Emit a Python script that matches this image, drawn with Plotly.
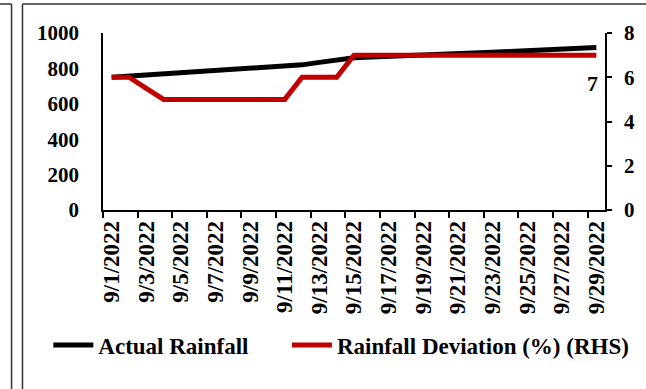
import plotly.graph_objects as go

# Daily dates for September 2022 (category axis labels)
dates = [f"9/{d}/2022" for d in range(1, 30)]

# Cumulative actual rainfall (mm), left axis
actual_rainfall = [750, 756, 761, 767, 772, 778, 784, 789, 795, 801,
                   808, 820, 834, 848, 860, 864, 867, 870, 873, 877,
                   881, 886, 891, 896, 901, 906, 910, 914, 918]

# Rainfall deviation from normal (%), right axis
rainfall_deviation = [6, 6, 5.5, 5, 5, 5, 5, 5, 5, 5,
                      5, 6, 6, 6, 7, 7, 7, 7, 7, 7,
                      7, 7, 7, 7, 7, 7, 7, 7, 7]

left_ticks = [0, 200, 400, 600, 800, 1000]
right_ticks = [0, 2, 4, 6, 8]

FONT = "Liberation Serif"
BLACK = "#000000"
RED = "#C00000"

W, H = 646, 389
ML, MR, MT, MB = 103, 38, 33, 179
PW = W - ML - MR
PH = H - MT - MB


def px_x(px):
    return (px - ML) / PW


def px_y(py):
    return (H - MB - py) / PH


fig = go.Figure()
fig.add_trace(go.Scatter(
    x=dates, y=actual_rainfall, name="Actual Rainfall",
    mode="lines", line=dict(color=BLACK, width=5),
    yaxis="y", legend="legend",
))
fig.add_trace(go.Scatter(
    x=dates, y=rainfall_deviation, name="Rainfall Deviation (%) (RHS)",
    mode="lines", line=dict(color=RED, width=5),
    yaxis="y2", legend="legend2",
))

# Value label on the last deviation point
fig.add_annotation(
    x=dates[-1], y=rainfall_deviation[-1], xref="x", yref="y2",
    text=f"{rainfall_deviation[-1]:g}", showarrow=False,
    xshift=-4, yshift=-28,
    font=dict(family=FONT, size=22, color=BLACK, weight="bold"),
)

# Panel frame lines
frame = dict(color="#333333", width=1.5)
fig.add_shape(type="line", xref="paper", yref="paper",
              x0=px_x(22), x1=px_x(22), y0=px_y(4), y1=px_y(H + 5), line=frame)
fig.add_shape(type="line", xref="paper", yref="paper",
              x0=px_x(22), x1=px_x(W + 5), y0=px_y(4), y1=px_y(4), line=frame)
fig.add_shape(type="line", xref="paper", yref="paper",
              x0=px_x(11), x1=px_x(11), y0=px_y(4), y1=px_y(H + 5), line=frame)
fig.add_shape(type="line", xref="paper", yref="paper",
              x0=px_x(-5), x1=px_x(11), y0=px_y(4), y1=px_y(4), line=frame)

tick_font = dict(family=FONT, size=21, color=BLACK, weight="bold")
legend_font = dict(family=FONT, size=23, color=BLACK, weight="bold")

fig.update_layout(
    width=W, height=H,
    margin=dict(l=ML, r=MR, t=MT, b=MB),
    paper_bgcolor="white", plot_bgcolor="white",
    font=dict(family=FONT, color=BLACK),
    showlegend=True,
    legend=dict(
        orientation="h", x=px_x(48), xanchor="left",
        y=px_y(345), yanchor="middle",
        font=legend_font, bgcolor="rgba(0,0,0,0)", itemwidth=40,
    ),
    legend2=dict(
        orientation="h", x=px_x(288), xanchor="left",
        y=px_y(345), yanchor="middle",
        font=legend_font, bgcolor="rgba(0,0,0,0)", itemwidth=40,
    ),
    xaxis=dict(
        type="category", range=[-0.5, len(dates) - 0.5],
        tickmode="linear", tick0=0, dtick=2,
        tickson="boundaries", ticks="outside", ticklen=6,
        tickwidth=1.5, tickcolor=BLACK,
        tickangle=-90, tickfont=dict(family=FONT, size=23, color=BLACK, weight="bold"),
        showline=True, linecolor=BLACK, linewidth=1.5,
        showgrid=False, zeroline=False,
    ),
    yaxis=dict(
        range=[0, 1000], tickvals=left_ticks,
        ticks="", tickfont=tick_font, ticklabelstandoff=18,
        showline=True, linecolor=BLACK, linewidth=1.5,
        showgrid=False, zeroline=False,
    ),
    yaxis2=dict(
        range=[0, 8], tickvals=right_ticks, overlaying="y", side="right",
        ticks="outside", ticklen=5, tickwidth=1.5, tickcolor=BLACK,
        tickfont=tick_font, ticklabelstandoff=8,
        showline=True, linecolor=BLACK, linewidth=1.5,
        showgrid=False, zeroline=False,
    ),
)

fig.write_html("out.html")
